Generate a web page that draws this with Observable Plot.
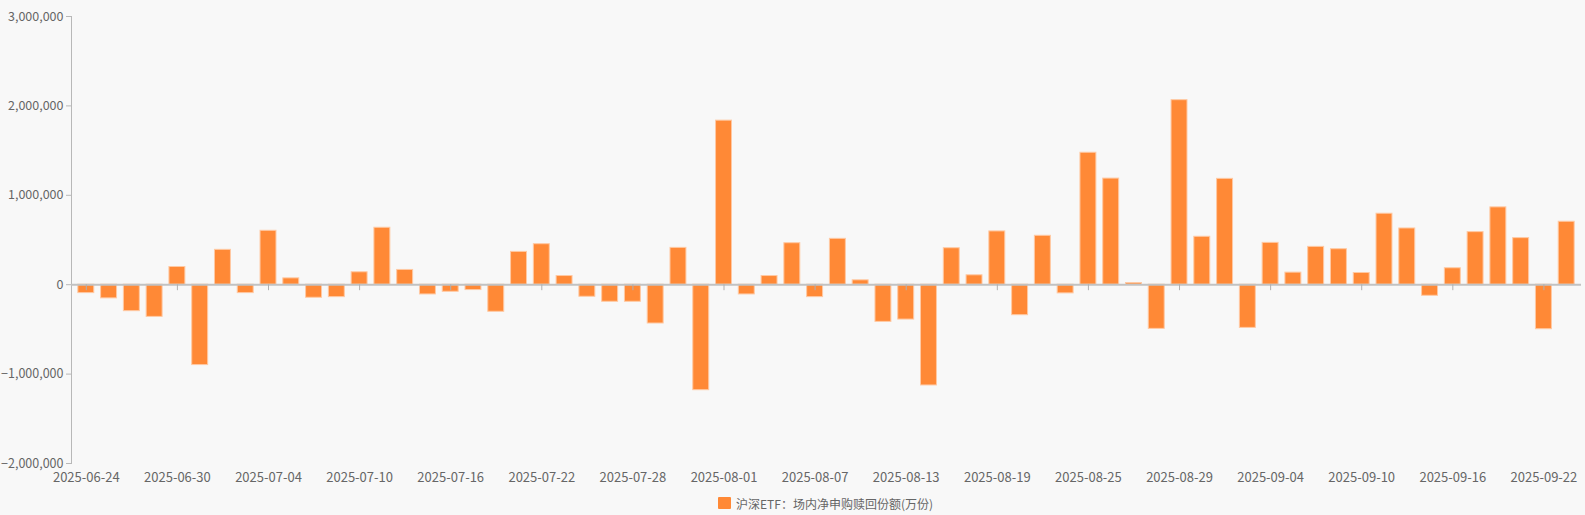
<!DOCTYPE html>
<html>
<head>
<meta charset="utf-8">
<script src="https://cdn.jsdelivr.net/npm/d3@7"></script>
<script src="https://cdn.jsdelivr.net/npm/@observablehq/plot@0.6"></script>
<style>
  html, body { margin: 0; padding: 0; background: #f8f8f8; }
  body { width: 1585px; height: 515px; overflow: hidden; font-family: "Noto Sans CJK SC", "Noto Sans", sans-serif; }
  #legend { display: flex; justify-content: center; align-items: center; font-size: 12px; color: #666; height: 20px; margin-top: 2px; padding-left: 66px; }
  #legend .sw { width: 13px; height: 12px; background: #ff8936; margin-right: 5px; border-radius: 1px; }
</style>
</head>
<body>
<div id="chart"></div>
<div id="legend"><span class="sw"></span><span>沪深ETF：场内净申购赎回份额(万份)</span></div>
<script>
const dates = [
  "2025-06-24","2025-06-25","2025-06-26","2025-06-27","2025-06-30",
  "2025-07-01","2025-07-02","2025-07-03","2025-07-04",
  "2025-07-07","2025-07-08","2025-07-09","2025-07-10","2025-07-11",
  "2025-07-14","2025-07-15","2025-07-16","2025-07-17","2025-07-18",
  "2025-07-21","2025-07-22","2025-07-23","2025-07-24","2025-07-25",
  "2025-07-28","2025-07-29","2025-07-30","2025-07-31","2025-08-01",
  "2025-08-04","2025-08-05","2025-08-06","2025-08-07","2025-08-08",
  "2025-08-11","2025-08-12","2025-08-13","2025-08-14","2025-08-15",
  "2025-08-18","2025-08-19","2025-08-20","2025-08-21","2025-08-22",
  "2025-08-25","2025-08-26","2025-08-27","2025-08-28","2025-08-29",
  "2025-09-01","2025-09-02","2025-09-03","2025-09-04","2025-09-05",
  "2025-09-08","2025-09-09","2025-09-10","2025-09-11","2025-09-12",
  "2025-09-15","2025-09-16","2025-09-17","2025-09-18","2025-09-19",
  "2025-09-22","2025-09-23"
];
const netCreation = [
  -94000, -153000, -296000, -360000, 198000,
  -899000, 390000, -94000, 603000,
  71000, -146000, -139000, 139000, 637000,
  165000, -109000, -79000, -60000, -303000,
  367000, 453000, 97000, -135000, -191000,
  -191000, -434000, 412000, -1180000, 1835000,
  -109000, 97000, 464000, -139000, 513000,
  49000, -416000, -390000, -1127000, 408000,
  105000, 596000, -341000, 547000, -97000,
  1476000, 1187000, 19000, -494000, 2064000,
  536000, 1184000, -483000, 468000, 135000,
  423000, 397000, 131000, 794000, 629000,
  -124000, 184000, 588000, 865000, 521000,
  -498000, 704000
];
const yTicks = [-2000000, -1000000, 0, 1000000, 2000000, 3000000];
const xTicks = dates.filter((d, i) => i % 4 === 0);

const data = dates.map((d, i) => ({date: d, value: netCreation[i]}));

const chart = Plot.plot({
  width: 1585,
  height: 491,
  marginTop: 16,
  marginLeft: 71,
  marginRight: 4,
  marginBottom: 28,
  style: {background: "#f8f8f8", fontSize: "13px", fontFamily: "'Noto Sans CJK SC', 'Noto Sans', sans-serif", color: "#666"},
  x: {type: "band", domain: dates, padding: 0.3, align: 0.5},
  y: {domain: [-2000000, 3000000]},
  marks: [
    Plot.frame({anchor: "left", stroke: "#b8b8b8", strokeWidth: 1}),
    Plot.axisY({ticks: yTicks, tickFormat: d3.format(","), tickSize: 5, tickPadding: 3, fontSize: 12.5, stroke: "#b8b8b8", fill: "#666", label: null}),
    Plot.axisX({ticks: xTicks, tickSize: 0, tickPadding: 9, fill: "#666", label: null}),
    Plot.barY(data, {x: "date", y: "value", fill: "#ff8936", stroke: "#ffc9a3", strokeWidth: 1}),
    Plot.ruleY([0], {stroke: "#c2c2c2", strokeWidth: 2}),
    Plot.ruleX(xTicks, {x: d => d, y1: 0, y2: 0, insetTop: 0, insetBottom: -6, stroke: "#b0b0b0", strokeWidth: 1})
  ]
});
document.getElementById("chart").appendChild(chart);
</script>
</body>
</html>
